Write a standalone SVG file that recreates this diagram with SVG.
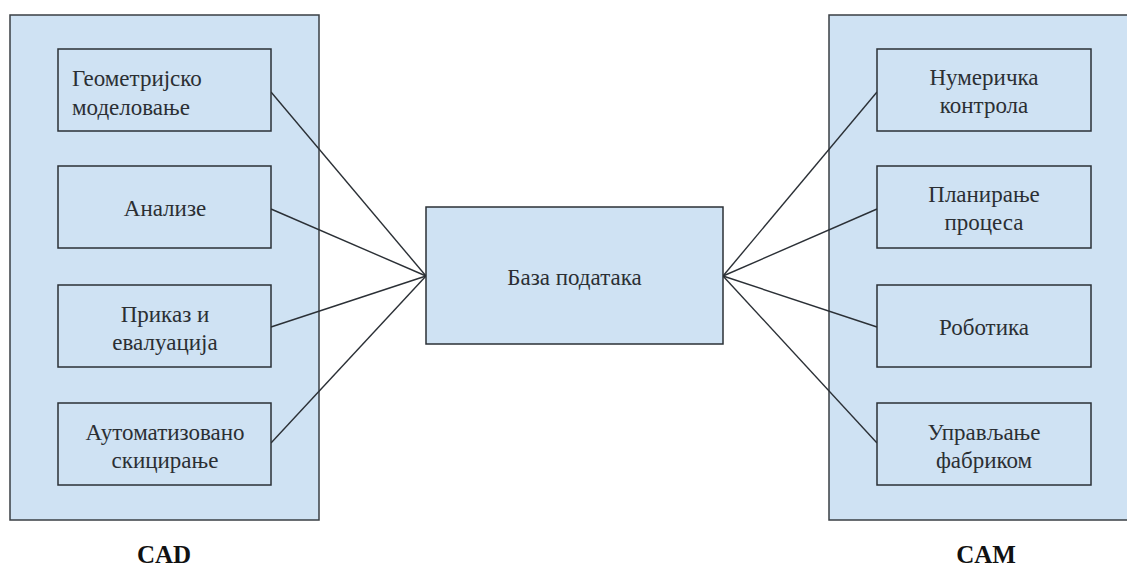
<svg xmlns="http://www.w3.org/2000/svg" width="1127" height="569" viewBox="0 0 1127 569">
  <style>
    .panel { fill: #cfe2f3; stroke: #3a3f44; stroke-width: 1.5; }
    .box { fill: #cfe2f3; stroke: #2b3036; stroke-width: 1.5; }
    .lbl { font-family: "Liberation Serif", "DejaVu Serif", "Times New Roman", serif; font-size: 23px; fill: #2b2f33; text-anchor: middle; }
    .lbl-left { text-anchor: start; }
    .title { font-family: "Liberation Serif", "DejaVu Serif", "Times New Roman", serif; font-size: 25px; font-weight: bold; fill: #111; text-anchor: middle; }
    .conn line { stroke: #2b3036; stroke-width: 1.4; }
  </style>
  <rect width="1127" height="569" fill="#ffffff"/>

  <!-- CAD panel -->
  <g id="cad-panel">
    <rect class="panel" x="10" y="15" width="309" height="505"/>
  </g>
  <!-- CAM panel (runs past the right edge) -->
  <g id="cam-panel">
    <rect class="panel" x="829" y="15" width="310" height="505"/>
  </g>

  <!-- connectors -->
  <g id="connectors" class="conn">
    <line x1="271" y1="92" x2="426" y2="276"/>
    <line x1="271" y1="209" x2="426" y2="276"/>
    <line x1="271" y1="327" x2="426" y2="276"/>
    <line x1="271" y1="443" x2="426" y2="276"/>
    <line x1="877" y1="92" x2="723" y2="276"/>
    <line x1="877" y1="209" x2="723" y2="276"/>
    <line x1="877" y1="327" x2="723" y2="276"/>
    <line x1="877" y1="443" x2="723" y2="276"/>
  </g>

  <!-- CAD components -->
  <g id="cad-geometry">
    <rect class="box" x="58" y="49" width="213" height="82"/>
    <text class="lbl lbl-left" x="72" y="86">Геометријско</text>
    <text class="lbl lbl-left" x="72" y="115">моделовање</text>
  </g>
  <g id="cad-analysis">
    <rect class="box" x="58" y="166" width="213" height="82"/>
    <text class="lbl" x="165" y="216">Анализе</text>
  </g>
  <g id="cad-display">
    <rect class="box" x="58" y="285" width="213" height="82"/>
    <text class="lbl" x="165" y="322">Приказ и</text>
    <text class="lbl" x="165" y="350">евалуација</text>
  </g>
  <g id="cad-drafting">
    <rect class="box" x="58" y="403" width="213" height="82"/>
    <text class="lbl" x="165" y="440">Аутоматизовано</text>
    <text class="lbl" x="165" y="468">скицирање</text>
  </g>

  <!-- shared database -->
  <g id="database">
    <rect class="box" x="426" y="207" width="297" height="137"/>
    <text class="lbl" x="574.5" y="285">База података</text>
  </g>

  <!-- CAM components -->
  <g id="cam-nc">
    <rect class="box" x="877" y="49" width="214" height="82"/>
    <text class="lbl" x="984" y="85">Нумеричка</text>
    <text class="lbl" x="984" y="113">контрола</text>
  </g>
  <g id="cam-planning">
    <rect class="box" x="877" y="166" width="214" height="82"/>
    <text class="lbl" x="984" y="202">Планирање</text>
    <text class="lbl" x="984" y="230">процеса</text>
  </g>
  <g id="cam-robotics">
    <rect class="box" x="877" y="285" width="214" height="82"/>
    <text class="lbl" x="984" y="335">Роботика</text>
  </g>
  <g id="cam-factory">
    <rect class="box" x="877" y="403" width="214" height="82"/>
    <text class="lbl" x="984" y="440">Управљање</text>
    <text class="lbl" x="984" y="468">фабриком</text>
  </g>

  <!-- panel captions -->
  <g id="captions">
    <text class="title" x="164" y="563">CAD</text>
    <text class="title" x="986" y="563">CAM</text>
  </g>
</svg>
